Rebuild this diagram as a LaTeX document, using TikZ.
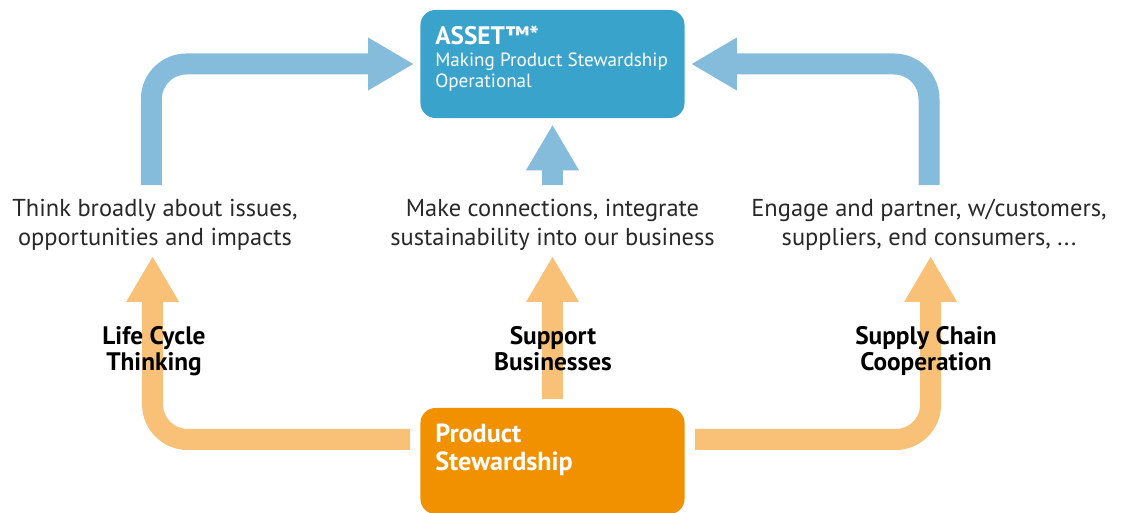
\documentclass[tikz,border=0pt]{standalone}
\usepackage{fontspec}
\setmainfont{PT Sans}
\usepackage{tikz}
\usetikzlibrary{positioning,arrows.meta}
\definecolor{boxblue}{RGB}{58,163,203}
\definecolor{arrblue}{RGB}{134,188,219}
\definecolor{boxorange}{RGB}{242,145,0}
\definecolor{arrorange}{RGB}{249,192,119}
\definecolor{txtgray}{RGB}{40,40,40}

\begin{document}
\begin{tikzpicture}[
  x=0.025cm, y=0.025cm,
  box/.style={rounded corners=0.375cm,minimum width=6.6cm,inner sep=0pt},
  desc/.style={align=center,inner sep=0pt,text=txtgray,font=\fontsize{17.4}{20.6}\selectfont},
  tag/.style={anchor=base,align=center,inner sep=0pt,font=\bfseries\fontsize{18}{18.5}\selectfont},
  boxtxt/.style={anchor=base west,align=left,inner sep=0pt,text=white},
  bluearr/.style={draw=arrblue,line width=0.525cm,rounded corners=0.875cm,-{Triangle[length=1.125cm,width=1.325cm,line width=0pt 0]}},
  orarr/.style={bluearr,draw=arrorange}
]
  \useasboundingbox (0,0) rectangle (1121,513);
  \node[box,fill=boxblue,minimum height=2.7cm] (asset) at (552.5,449) {};
  \node[box,fill=boxorange,minimum height=2.65cm] (prod) at (552.5,52) {};
  \node[boxtxt,font=\bfseries\fontsize{18}{15}\selectfont] (assettitle) at (435,468) {ASSET™*};
  \node[boxtxt,font=\fontsize{13.6}{15}\selectfont] (assetsub) at (435,425) {Making Product Stewardship\\Operational};
  \node[boxtxt,font=\bfseries\fontsize{18.6}{20}\selectfont] (prodtxt) at (435,42) {Product\\Stewardship};

  \node[desc] (think) at (155,288) {Think broadly about issues,\\opportunities and impacts};
  \node[desc] (make) at (552.5,288) {Make connections, integrate\\sustainability into our business};
  \node[desc] (engage) at (929,288) {Engage and partner, w/customers,\\suppliers, end consumers, ...};

  % feedback into ASSET
  \draw[bluearr] ([xshift=-0.09cm,yshift=0.35cm]think.north) |- ([xshift=-0.175cm]asset.west);
  \draw[bluearr] ([yshift=0.35cm]make.north) -- ([yshift=-0.175cm]asset.south);
  \draw[bluearr] ([yshift=0.35cm]engage.north) |- ([xshift=0.175cm]asset.east);
  % out of product stewardship
  \draw[orarr] ([xshift=-0.25cm,yshift=0.5375cm]prod.west) -| ([xshift=-0.06cm,yshift=-0.15cm]think.south);
  \draw[orarr] ([yshift=0.225cm]prod.north) -- ([yshift=-0.15cm]make.south);
  \draw[orarr] ([xshift=0.25cm,yshift=0.5375cm]prod.east) -| ([xshift=0.04cm,yshift=-0.15cm]engage.south);

  \node[tag] (lct) at (154,142) {Life Cycle\\Thinking};
  \node[tag] (supp) at (553,142) {Support\\Businesses};
  \node[tag] (scc) at (926,142) {Supply Chain\\Cooperation};
\end{tikzpicture}
\end{document}
